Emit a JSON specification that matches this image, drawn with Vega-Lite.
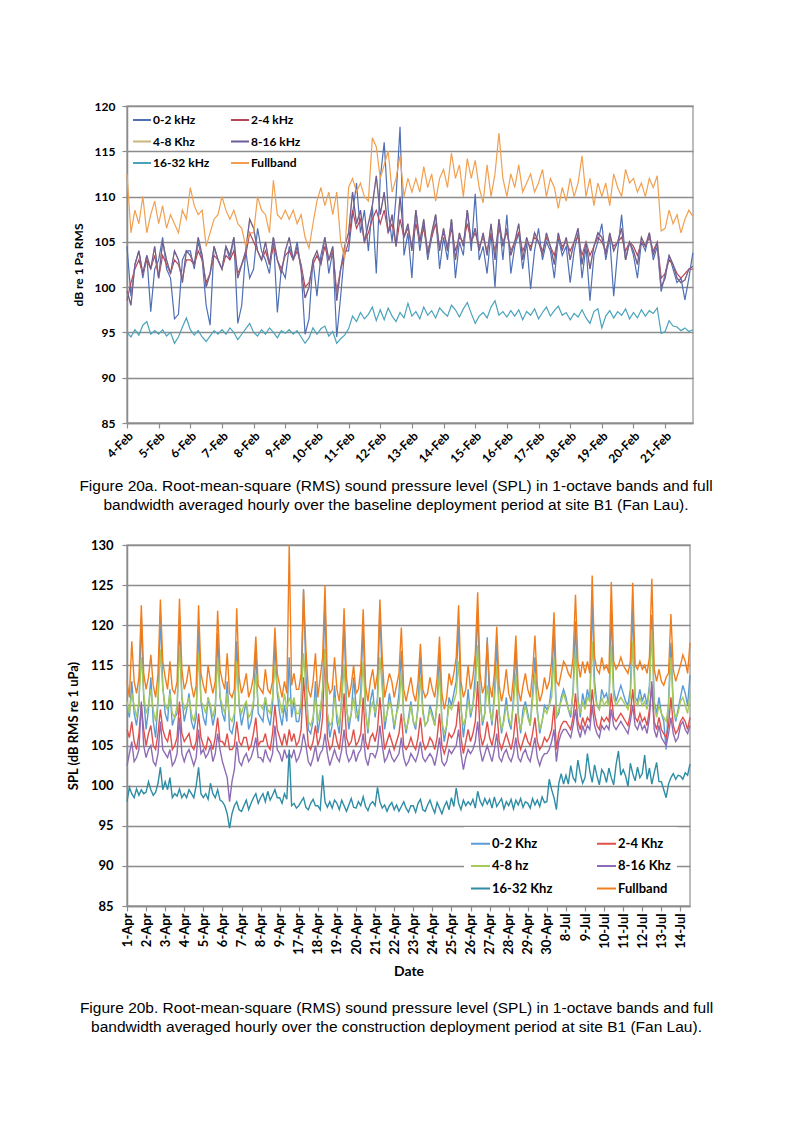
{
"$schema":"https://vega.github.io/schema/vega-lite/v6.json",
"background":"white",
"padding":{"left":66,"top":99,"right":0,"bottom":0},
"autosize":{"type":"pad"},
"config":{
 "font":"Lato",
 "view":{"stroke":"#a6a6a6","strokeWidth":1.5},
 "axis":{"labelFont":"Lato","labelFontWeight":"bold","labelColor":"#000","titleFont":"Lato","titleFontWeight":"bold","titleColor":"#000","domainColor":"#8c8c8c","domainWidth":1.5,"tickColor":"#8c8c8c","tickWidth":1.2,"tickSize":5,"gridColor":"#8c8c8c","gridWidth":1.5,"labelOverlap":false,"labelBound":false,"labelFlush":false},
 "legend":{"labelFont":"Lato","labelFontWeight":"bold","labelColor":"#000"},
 "title":{"font":"Liberation Sans","fontWeight":"normal","color":"#000","fontSize":15.5,"lineHeight":19}
},
"resolve":{"scale":{"x":"independent","y":"independent","color":"independent"},"legend":{"color":"independent"}},
"bounds":"flush",
"spacing":122,
"datasets":{
"pa":[
{"t":0,"a":104.5,"b":98.5,"c":99.6,"d":99.6,"e":95,"f":112.5},
{"t":0.125,"a":99,"b":100.5,"c":98,"d":98,"e":94.5,"f":106},
{"t":0.25,"a":102.5,"b":102,"c":102.5,"d":102.5,"e":95.3,"f":108.5},
{"t":0.375,"a":104,"b":103,"c":104,"d":104,"e":94.7,"f":107},
{"t":0.5,"a":101,"b":101.5,"c":101.5,"d":101.5,"e":95.8,"f":110},
{"t":0.625,"a":103.5,"b":103,"c":103.5,"d":103.5,"e":96.2,"f":106},
{"t":0.75,"a":97.3,"b":102,"c":102,"d":102,"e":94.8,"f":108},
{"t":0.875,"a":102,"b":103.5,"c":104.5,"d":104.5,"e":95.2,"f":109.5},
{"t":1,"a":103,"b":101,"c":101,"d":101,"e":94.8,"f":107},
{"t":1.125,"a":105.5,"b":103.5,"c":105,"d":105,"e":95.3,"f":109},
{"t":1.25,"a":102,"b":102.5,"c":103,"d":103,"e":94.6,"f":106.5},
{"t":1.375,"a":101,"b":101.5,"c":101.5,"d":101.5,"e":95,"f":108},
{"t":1.5,"a":96.5,"b":103,"c":104,"d":104,"e":93.8,"f":107},
{"t":1.625,"a":97,"b":102.5,"c":103,"d":103,"e":94.5,"f":106},
{"t":1.75,"a":103,"b":101,"c":100.5,"d":100.5,"e":95.6,"f":108.5},
{"t":1.875,"a":104,"b":103,"c":104,"d":104,"e":96.6,"f":107.5},
{"t":2,"a":104,"b":103,"c":103.5,"d":103.5,"e":95.3,"f":111},
{"t":2.125,"a":102,"b":102.5,"c":102.5,"d":102.5,"e":94.7,"f":109},
{"t":2.25,"a":105,"b":104,"c":105.5,"d":105.5,"e":95.2,"f":108},
{"t":2.375,"a":103,"b":103,"c":103.5,"d":103.5,"e":94.5,"f":108.5},
{"t":2.5,"a":98,"b":100.5,"c":100,"d":100,"e":94,"f":104.5},
{"t":2.625,"a":95.8,"b":101.5,"c":101.5,"d":101.5,"e":94.6,"f":106},
{"t":2.75,"a":104.5,"b":103.5,"c":104.5,"d":104.5,"e":95.2,"f":107.5},
{"t":2.875,"a":103,"b":103,"c":103,"d":103,"e":94.8,"f":108},
{"t":3,"a":102,"b":102,"c":102,"d":102,"e":95.3,"f":110},
{"t":3.125,"a":104.5,"b":103.5,"c":104.5,"d":104.5,"e":94.8,"f":108.5},
{"t":3.25,"a":103,"b":103,"c":103.5,"d":103.5,"e":95.5,"f":107.5},
{"t":3.375,"a":105.5,"b":104,"c":105.5,"d":105.5,"e":95,"f":108.5},
{"t":3.5,"a":96,"b":101.5,"c":101,"d":101,"e":94.2,"f":107},
{"t":3.625,"a":98,"b":102.5,"c":102.5,"d":102.5,"e":94.8,"f":106.5},
{"t":3.75,"a":104,"b":103.5,"c":104,"d":104,"e":95.4,"f":104.5},
{"t":3.875,"a":101,"b":106,"c":107.5,"d":107.5,"e":96,"f":106},
{"t":4,"a":102,"b":105,"c":106.5,"d":106.5,"e":95,"f":106},
{"t":4.125,"a":106.5,"b":104,"c":104,"d":104,"e":94.6,"f":110},
{"t":4.25,"a":104,"b":103,"c":103,"d":103,"e":95.3,"f":108.5},
{"t":4.375,"a":103,"b":104,"c":105,"d":105,"e":94.8,"f":108},
{"t":4.5,"a":101.5,"b":102.5,"c":102.5,"d":102.5,"e":95.5,"f":106},
{"t":4.625,"a":105.5,"b":104.5,"c":105.5,"d":105.5,"e":95,"f":111.8},
{"t":4.75,"a":97.2,"b":103,"c":103,"d":103,"e":94.4,"f":108},
{"t":4.875,"a":102,"b":102,"c":101.5,"d":101.5,"e":95.2,"f":107.5},
{"t":5,"a":101,"b":103.5,"c":104,"d":104,"e":94.9,"f":108.5},
{"t":5.125,"a":104.5,"b":104,"c":105.5,"d":105.5,"e":95.3,"f":107.5},
{"t":5.25,"a":103,"b":103,"c":103,"d":103,"e":94.8,"f":108.5},
{"t":5.375,"a":105,"b":104,"c":104.5,"d":104.5,"e":95.2,"f":107},
{"t":5.5,"a":102,"b":102.5,"c":102,"d":102,"e":94.5,"f":108},
{"t":5.625,"a":94.8,"b":100,"c":98.8,"d":98.8,"e":93.8,"f":105.5},
{"t":5.75,"a":96.5,"b":100.5,"c":100,"d":100,"e":94.4,"f":104.3},
{"t":5.875,"a":103,"b":102.5,"c":103,"d":103,"e":95.5,"f":107},
{"t":6,"a":99,"b":103.5,"c":104,"d":104,"e":94.8,"f":109.5},
{"t":6.125,"a":103.5,"b":102.5,"c":102.5,"d":102.5,"e":95.4,"f":111},
{"t":6.25,"a":105.5,"b":104.5,"c":105.5,"d":105.5,"e":95.7,"f":109},
{"t":6.375,"a":101.5,"b":103,"c":103,"d":103,"e":94.6,"f":110.5},
{"t":6.5,"a":104,"b":104,"c":104.5,"d":104.5,"e":95.1,"f":108},
{"t":6.625,"a":94.5,"b":99.5,"c":98.5,"d":98.5,"e":93.8,"f":110.5},
{"t":6.75,"a":99,"b":102,"c":102,"d":102,"e":94.3,"f":105},
{"t":6.875,"a":104,"b":103.5,"c":104.5,"d":104.5,"e":94.7,"f":103.2},
{"t":7,"a":104,"b":105,"c":106,"d":106,"e":95.4,"f":111},
{"t":7.125,"a":108,"b":108.5,"c":110.5,"d":110.5,"e":96.8,"f":112},
{"t":7.25,"a":111.5,"b":106.5,"c":107,"d":107,"e":96.2,"f":110.5},
{"t":7.375,"a":106,"b":107.5,"c":108.5,"d":108.5,"e":97.2,"f":111.5},
{"t":7.5,"a":108.5,"b":105,"c":105,"d":105,"e":96.5,"f":110},
{"t":7.625,"a":104,"b":106,"c":107,"d":107,"e":97,"f":109.5},
{"t":7.75,"a":109,"b":107.5,"c":109,"d":109,"e":97.8,"f":116.5},
{"t":7.875,"a":101.5,"b":108.5,"c":112.3,"d":112.3,"e":96.3,"f":115.5},
{"t":8,"a":112,"b":107,"c":108,"d":108,"e":97.5,"f":112},
{"t":8.125,"a":116,"b":108.5,"c":110.5,"d":110.5,"e":96.4,"f":113.5},
{"t":8.25,"a":108.5,"b":106,"c":106,"d":106,"e":97.7,"f":115},
{"t":8.375,"a":105,"b":107,"c":108,"d":108,"e":96.8,"f":110.5},
{"t":8.5,"a":110,"b":104.5,"c":104.5,"d":104.5,"e":96.2,"f":112},
{"t":8.625,"a":117.7,"b":107.5,"c":110,"d":110,"e":97.2,"f":114.5},
{"t":8.75,"a":103.5,"b":105.5,"c":105.5,"d":105.5,"e":96.6,"f":110},
{"t":8.875,"a":106,"b":106.5,"c":107,"d":107,"e":98.2,"f":112},
{"t":9,"a":101,"b":104.5,"c":104,"d":104,"e":96.8,"f":110.5},
{"t":9.125,"a":108.5,"b":107,"c":108.5,"d":108.5,"e":97.3,"f":112},
{"t":9.25,"a":104,"b":105,"c":105,"d":105,"e":96.5,"f":110.5},
{"t":9.375,"a":107,"b":106.5,"c":107.5,"d":107.5,"e":97.8,"f":113.3},
{"t":9.5,"a":103,"b":104,"c":103.5,"d":103.5,"e":96.9,"f":111},
{"t":9.625,"a":105.5,"b":105.5,"c":106,"d":106,"e":97.4,"f":112.5},
{"t":9.75,"a":108,"b":107,"c":108,"d":108,"e":96.6,"f":109.5},
{"t":9.875,"a":102,"b":104.5,"c":104,"d":104,"e":97.7,"f":112},
{"t":10,"a":105.5,"b":106,"c":106.5,"d":106.5,"e":97.2,"f":113},
{"t":10.125,"a":103,"b":104.5,"c":104,"d":104,"e":96.8,"f":111},
{"t":10.25,"a":107.5,"b":106.5,"c":107.5,"d":107.5,"e":98,"f":114.8},
{"t":10.375,"a":101,"b":104,"c":103,"d":103,"e":97.5,"f":112},
{"t":10.5,"a":105,"b":105.5,"c":106,"d":106,"e":96.7,"f":113.5},
{"t":10.625,"a":103.5,"b":105,"c":104.5,"d":104.5,"e":97.6,"f":110},
{"t":10.75,"a":108.5,"b":107,"c":108.5,"d":108.5,"e":98.3,"f":114.2},
{"t":10.875,"a":104,"b":105,"c":105,"d":105,"e":97.1,"f":112},
{"t":11,"a":110.3,"b":106,"c":106.5,"d":106.5,"e":96,"f":114},
{"t":11.125,"a":103,"b":104.5,"c":104,"d":104,"e":96.8,"f":111},
{"t":11.25,"a":104.5,"b":105.5,"c":106,"d":106,"e":97.2,"f":109.3},
{"t":11.375,"a":101.5,"b":104,"c":103.5,"d":103.5,"e":96.6,"f":113.5},
{"t":11.5,"a":106,"b":106,"c":107,"d":107,"e":97.8,"f":110},
{"t":11.625,"a":100,"b":104,"c":103,"d":103,"e":98.5,"f":112.5},
{"t":11.75,"a":107.5,"b":106.5,"c":107.5,"d":107.5,"e":96.9,"f":117},
{"t":11.875,"a":103,"b":105,"c":104.5,"d":104.5,"e":97.3,"f":112},
{"t":12,"a":108,"b":106,"c":106.5,"d":106.5,"e":96.7,"f":110},
{"t":12.125,"a":101.5,"b":104,"c":103.5,"d":103.5,"e":97.4,"f":112.5},
{"t":12.25,"a":104.5,"b":105,"c":105,"d":105,"e":96.8,"f":111},
{"t":12.375,"a":106,"b":106,"c":107,"d":107,"e":97.5,"f":113.5},
{"t":12.5,"a":102,"b":104,"c":103,"d":103,"e":96.4,"f":110.5},
{"t":12.625,"a":105,"b":105,"c":105.5,"d":105.5,"e":97.3,"f":111.5},
{"t":12.75,"a":99.8,"b":104.5,"c":104,"d":104,"e":96.9,"f":112.5},
{"t":12.875,"a":104,"b":105.5,"c":106,"d":106,"e":97.6,"f":110.5},
{"t":13,"a":106.5,"b":105,"c":105,"d":105,"e":96.5,"f":111.5},
{"t":13.125,"a":103,"b":104,"c":103.5,"d":103.5,"e":97.2,"f":113},
{"t":13.25,"a":105,"b":105.5,"c":106,"d":106,"e":97.8,"f":110},
{"t":13.375,"a":104,"b":104.5,"c":104.5,"d":104.5,"e":96.8,"f":112},
{"t":13.5,"a":101,"b":103.5,"c":102.5,"d":102.5,"e":97.4,"f":111},
{"t":13.625,"a":105.5,"b":105.5,"c":106,"d":106,"e":97.9,"f":108.7},
{"t":13.75,"a":103.5,"b":104.5,"c":104,"d":104,"e":96.9,"f":111},
{"t":13.875,"a":104.5,"b":105,"c":105.5,"d":105.5,"e":97.2,"f":109.5},
{"t":14,"a":100.5,"b":104,"c":103,"d":103,"e":96.4,"f":112},
{"t":14.125,"a":104,"b":105,"c":105,"d":105,"e":97.1,"f":110},
{"t":14.25,"a":106,"b":105.5,"c":106.5,"d":106.5,"e":96.7,"f":111.5},
{"t":14.375,"a":101,"b":103.5,"c":102.5,"d":102.5,"e":97.5,"f":114.5},
{"t":14.5,"a":104.5,"b":105,"c":105,"d":105,"e":96.6,"f":110},
{"t":14.625,"a":98.5,"b":103.5,"c":102,"d":102,"e":96,"f":112},
{"t":14.75,"a":103.5,"b":104.5,"c":104.5,"d":104.5,"e":97.3,"f":109},
{"t":14.875,"a":105,"b":105.5,"c":106,"d":106,"e":97.6,"f":111.5},
{"t":15,"a":107,"b":105,"c":105.5,"d":105.5,"e":95.5,"f":110},
{"t":15.125,"a":103,"b":104,"c":103.5,"d":103.5,"e":96.8,"f":111.5},
{"t":15.25,"a":105.5,"b":105.5,"c":106,"d":106,"e":97.4,"f":109},
{"t":15.375,"a":99,"b":104.5,"c":104,"d":104,"e":96.6,"f":112.5},
{"t":15.5,"a":104,"b":105,"c":105,"d":105,"e":97.3,"f":111},
{"t":15.625,"a":108,"b":105.5,"c":106.5,"d":106.5,"e":96.9,"f":110},
{"t":15.75,"a":103,"b":104,"c":103,"d":103,"e":97.6,"f":113},
{"t":15.875,"a":105,"b":105,"c":105,"d":105,"e":96.5,"f":111.5},
{"t":16,"a":103.5,"b":104.5,"c":104,"d":104,"e":97.2,"f":112},
{"t":16.125,"a":101,"b":103.5,"c":102.5,"d":102.5,"e":96.6,"f":110.5},
{"t":16.25,"a":105,"b":105,"c":105.5,"d":105.5,"e":97.5,"f":111.5},
{"t":16.375,"a":104,"b":104.5,"c":104.5,"d":104.5,"e":96.8,"f":110},
{"t":16.5,"a":106,"b":105.5,"c":106,"d":106,"e":97.4,"f":112},
{"t":16.625,"a":103,"b":104,"c":103.5,"d":103.5,"e":97.1,"f":111},
{"t":16.75,"a":104.5,"b":105,"c":105,"d":105,"e":97.7,"f":112.3},
{"t":16.875,"a":99.5,"b":101,"c":100,"d":100,"e":94.9,"f":106.2},
{"t":17,"a":101.5,"b":101.5,"c":101,"d":101,"e":95.1,"f":106.5},
{"t":17.125,"a":103.5,"b":103,"c":103.5,"d":103.5,"e":96.3,"f":108.5},
{"t":17.25,"a":102,"b":102.5,"c":102.5,"d":102.5,"e":95.7,"f":107},
{"t":17.375,"a":100.5,"b":101.5,"c":101,"d":101,"e":95.6,"f":108},
{"t":17.5,"a":101,"b":101,"c":100.5,"d":100.5,"e":95.2,"f":106},
{"t":17.625,"a":98.6,"b":101.5,"c":100.8,"d":100.8,"e":95.5,"f":107.5},
{"t":17.75,"a":101,"b":102,"c":102,"d":102,"e":95.1,"f":108.5},
{"t":17.875,"a":103.8,"b":102,"c":102.3,"d":102.3,"e":95.3,"f":107.8}
],
"pb":[
{"t":0,"a":110,"b":107,"c":110.5,"d":102.5,"e":98,"f":113},
{"t":0.125,"a":108.5,"b":106,"c":109,"d":104,"e":99.8,"f":111},
{"t":0.25,"a":113,"b":108,"c":111.5,"d":105.5,"e":99,"f":118},
{"t":0.375,"a":109,"b":105.5,"c":110,"d":103,"e":98.5,"f":113},
{"t":0.5,"a":107.5,"b":104.5,"c":108.5,"d":103.5,"e":99.6,"f":111.5},
{"t":0.625,"a":110,"b":106.5,"c":110.5,"d":104.5,"e":98.8,"f":113.5},
{"t":0.75,"a":121,"b":110,"c":116,"d":110.5,"e":99.5,"f":122.5},
{"t":0.875,"a":111,"b":107,"c":111.5,"d":105,"e":99,"f":114},
{"t":1,"a":107,"b":105,"c":109,"d":103.5,"e":99.2,"f":112},
{"t":1.125,"a":109.5,"b":106.5,"c":110,"d":104.5,"e":100.5,"f":113.5},
{"t":1.25,"a":113.5,"b":107.5,"c":112,"d":105,"e":99.5,"f":116.3},
{"t":1.375,"a":108,"b":105,"c":109.5,"d":103,"e":98.8,"f":112.5},
{"t":1.5,"a":106,"b":104.5,"c":108,"d":102.5,"e":99.2,"f":111},
{"t":1.625,"a":110.5,"b":106.5,"c":110.5,"d":104,"e":100.3,"f":114},
{"t":1.75,"a":121.3,"b":109.5,"c":117,"d":108,"e":102.3,"f":123.2},
{"t":1.875,"a":112.5,"b":107,"c":112,"d":104.5,"e":99.5,"f":115.5},
{"t":2,"a":109,"b":106,"c":110,"d":104,"e":100.5,"f":113.5},
{"t":2.125,"a":108,"b":105.5,"c":109.5,"d":103.5,"e":99.5,"f":112},
{"t":2.25,"a":112,"b":107,"c":111.5,"d":104.5,"e":101,"f":115.5},
{"t":2.375,"a":107.5,"b":104.5,"c":109,"d":102.5,"e":98.5,"f":112},
{"t":2.5,"a":108.5,"b":105,"c":108.5,"d":103,"e":99,"f":111.5},
{"t":2.625,"a":109,"b":106,"c":110,"d":104,"e":98.7,"f":113},
{"t":2.75,"a":121,"b":110.5,"c":117.5,"d":108.5,"e":99.6,"f":123.3},
{"t":2.875,"a":111,"b":106.5,"c":111,"d":104,"e":98.5,"f":114.5},
{"t":3,"a":108,"b":105.5,"c":109.5,"d":103,"e":99,"f":112},
{"t":3.125,"a":109.5,"b":106,"c":110,"d":104,"e":98.5,"f":113},
{"t":3.25,"a":111.5,"b":106.5,"c":111,"d":104.5,"e":99.5,"f":115},
{"t":3.375,"a":108,"b":105,"c":109,"d":103.5,"e":99,"f":112.5},
{"t":3.5,"a":107,"b":104.5,"c":108,"d":102.5,"e":98.5,"f":111},
{"t":3.625,"a":108.5,"b":105.5,"c":109.5,"d":103.5,"e":100,"f":112.5},
{"t":3.75,"a":120.3,"b":109,"c":116.5,"d":107,"e":102.3,"f":122.5},
{"t":3.875,"a":110.5,"b":106,"c":110.5,"d":104,"e":99,"f":114},
{"t":4,"a":108.5,"b":105,"c":110,"d":104.5,"e":98.5,"f":112.5},
{"t":4.125,"a":107.5,"b":104.5,"c":109,"d":103.5,"e":99,"f":111.5},
{"t":4.25,"a":111,"b":106,"c":111,"d":104,"e":98.3,"f":115},
{"t":4.375,"a":109.5,"b":105.5,"c":110,"d":105,"e":100.3,"f":113},
{"t":4.5,"a":107.5,"b":104.5,"c":108.5,"d":103,"e":99,"f":111.5},
{"t":4.625,"a":109,"b":106,"c":110,"d":104,"e":98.5,"f":113},
{"t":4.75,"a":119,"b":108.5,"c":116,"d":106.5,"e":99.5,"f":121.8},
{"t":4.875,"a":111,"b":105.5,"c":111,"d":104.5,"e":98.2,"f":114.5},
{"t":5,"a":109,"b":105.5,"c":110,"d":103,"e":98,"f":113},
{"t":5.125,"a":108,"b":105,"c":109,"d":102,"e":97.5,"f":112},
{"t":5.25,"a":113,"b":106.5,"c":111.5,"d":101,"e":96.5,"f":116.5},
{"t":5.375,"a":107,"b":104.5,"c":108.5,"d":98,"e":94.7,"f":111.5},
{"t":5.5,"a":106.5,"b":104.5,"c":108,"d":100.5,"e":96.5,"f":111},
{"t":5.625,"a":108,"b":105,"c":109,"d":102,"e":97.5,"f":112},
{"t":5.75,"a":118,"b":108,"c":115.5,"d":105.5,"e":98,"f":122.1},
{"t":5.875,"a":110,"b":105.5,"c":110,"d":103,"e":97,"f":113.5},
{"t":6,"a":107.5,"b":105,"c":109,"d":102.5,"e":96.8,"f":111.5},
{"t":6.125,"a":109,"b":106,"c":110,"d":103.5,"e":97.5,"f":112.5},
{"t":6.25,"a":110.5,"b":106,"c":110.5,"d":104,"e":98.2,"f":114},
{"t":6.375,"a":107,"b":104.5,"c":108.5,"d":103,"e":97,"f":111},
{"t":6.5,"a":108,"b":105,"c":109,"d":103.5,"e":97.8,"f":112},
{"t":6.625,"a":110,"b":106.5,"c":110.5,"d":104.5,"e":98.5,"f":113.5},
{"t":6.75,"a":117,"b":108.5,"c":114,"d":106,"e":99,"f":118.6},
{"t":6.875,"a":109,"b":105,"c":110,"d":103.5,"e":97.8,"f":112.5},
{"t":7,"a":108.5,"b":105.5,"c":110,"d":103.5,"e":98.5,"f":112},
{"t":7.125,"a":108,"b":105.5,"c":109.5,"d":103,"e":99,"f":111.5},
{"t":7.25,"a":111,"b":106.5,"c":111,"d":104.5,"e":98,"f":114.5},
{"t":7.375,"a":108.5,"b":105,"c":109.5,"d":103.5,"e":99.3,"f":112},
{"t":7.5,"a":107.5,"b":104.5,"c":109,"d":103,"e":98.2,"f":111.5},
{"t":7.625,"a":110,"b":106.5,"c":111,"d":104,"e":98.8,"f":113},
{"t":7.75,"a":118,"b":110,"c":115,"d":107.5,"e":99.5,"f":119.7},
{"t":7.875,"a":111.5,"b":107,"c":112,"d":104.5,"e":98.5,"f":114},
{"t":8,"a":109,"b":106,"c":110.5,"d":104,"e":98.5,"f":112.5},
{"t":8.125,"a":107.5,"b":105,"c":109,"d":103,"e":97.8,"f":111},
{"t":8.25,"a":110,"b":106.5,"c":111.5,"d":104.5,"e":99,"f":113},
{"t":8.375,"a":108,"b":105,"c":109.5,"d":103.5,"e":98.3,"f":111.5},
{"t":8.5,"a":116,"b":107,"c":111,"d":104,"e":104.5,"f":130},
{"t":8.625,"a":108.5,"b":105.5,"c":110,"d":103.5,"e":97.5,"f":112.5},
{"t":8.75,"a":110.5,"b":106.5,"c":111,"d":104.5,"e":97.8,"f":114},
{"t":8.875,"a":108,"b":105,"c":109,"d":103,"e":97.2,"f":112},
{"t":9,"a":108,"b":105.5,"c":109,"d":103.5,"e":97.5,"f":112},
{"t":9.125,"a":110,"b":107,"c":110.5,"d":104.5,"e":98,"f":114},
{"t":9.25,"a":124.5,"b":113.5,"c":116.5,"d":106.5,"e":98.5,"f":124.3},
{"t":9.375,"a":114,"b":109,"c":112,"d":105,"e":97.3,"f":117},
{"t":9.5,"a":107,"b":105,"c":108,"d":103,"e":97,"f":112},
{"t":9.625,"a":106.5,"b":104.5,"c":107.5,"d":102.5,"e":97.8,"f":111},
{"t":9.75,"a":108,"b":105.5,"c":108.5,"d":103.5,"e":98.3,"f":113},
{"t":9.875,"a":113,"b":107.5,"c":111,"d":105,"e":97.5,"f":116.5},
{"t":10,"a":106.5,"b":105,"c":108,"d":103,"e":97.5,"f":111},
{"t":10.125,"a":108.5,"b":106,"c":109.5,"d":104,"e":97,"f":113.5},
{"t":10.25,"a":112,"b":108.5,"c":112,"d":104.5,"e":101.3,"f":116},
{"t":10.375,"a":123.2,"b":117,"c":117,"d":106.5,"e":98,"f":125},
{"t":10.5,"a":109,"b":106,"c":109,"d":104,"e":97.3,"f":113},
{"t":10.625,"a":106,"b":104.5,"c":107.5,"d":102.5,"e":98,"f":111.5},
{"t":10.75,"a":107.5,"b":105,"c":108,"d":103.5,"e":97.2,"f":112},
{"t":10.875,"a":112.5,"b":107,"c":111,"d":104.5,"e":98.2,"f":116},
{"t":11,"a":108,"b":105.5,"c":109,"d":103.5,"e":97.8,"f":112},
{"t":11.125,"a":106.5,"b":104.5,"c":107.5,"d":103,"e":97,"f":110.5},
{"t":11.25,"a":111,"b":107,"c":110.5,"d":104.5,"e":98.2,"f":114},
{"t":11.375,"a":120.5,"b":111.5,"c":115,"d":107,"e":97.5,"f":122.1},
{"t":11.5,"a":110,"b":106,"c":109.5,"d":104,"e":96.8,"f":113.5},
{"t":11.625,"a":107,"b":105,"c":108,"d":103,"e":97.6,"f":111},
{"t":11.75,"a":109,"b":105.5,"c":109,"d":103.5,"e":98.4,"f":112.5},
{"t":11.875,"a":113.5,"b":107,"c":111,"d":104.5,"e":97.3,"f":115},
{"t":12,"a":110,"b":105,"c":108.5,"d":103,"e":97.2,"f":111.5},
{"t":12.125,"a":108,"b":105.5,"c":109,"d":104,"e":98,"f":112},
{"t":12.25,"a":112,"b":106.5,"c":110.5,"d":104.5,"e":97.5,"f":114.5},
{"t":12.375,"a":120,"b":111,"c":115.5,"d":106.5,"e":98.6,"f":122},
{"t":12.5,"a":109.5,"b":105.5,"c":109,"d":103.5,"e":97.4,"f":112.5},
{"t":12.625,"a":106.5,"b":104.5,"c":107,"d":102.5,"e":96.9,"f":110.5},
{"t":12.75,"a":110.5,"b":106,"c":109.5,"d":104,"e":97.7,"f":113},
{"t":12.875,"a":112,"b":106.5,"c":110.5,"d":104,"e":98,"f":114.5},
{"t":13,"a":108.5,"b":105.5,"c":109,"d":103.5,"e":97.5,"f":112},
{"t":13.125,"a":111,"b":107,"c":110.5,"d":104.5,"e":99.8,"f":114},
{"t":13.25,"a":122,"b":111,"c":116,"d":107.5,"e":98,"f":123.2},
{"t":13.375,"a":113,"b":107.5,"c":112,"d":105,"e":97.2,"f":116},
{"t":13.5,"a":107,"b":104.5,"c":108,"d":103,"e":97.6,"f":111},
{"t":13.625,"a":109,"b":105.5,"c":109,"d":103.5,"e":96.8,"f":112.5},
{"t":13.75,"a":111.5,"b":106.5,"c":110.5,"d":104.5,"e":97.5,"f":114},
{"t":13.875,"a":109.5,"b":105.5,"c":109.5,"d":103.5,"e":97.9,"f":113},
{"t":14,"a":107,"b":104.5,"c":107.5,"d":103,"e":97,"f":111},
{"t":14.125,"a":109,"b":105.5,"c":109,"d":103.5,"e":97.6,"f":112.5},
{"t":14.25,"a":111.5,"b":106.5,"c":110,"d":104,"e":96.8,"f":114},
{"t":14.375,"a":116.8,"b":109,"c":114,"d":106,"e":97.4,"f":119.7},
{"t":14.5,"a":108.5,"b":105,"c":108.5,"d":103.5,"e":98,"f":112},
{"t":14.625,"a":106.5,"b":104.5,"c":107,"d":102.5,"e":97.2,"f":110.5},
{"t":14.75,"a":108.5,"b":105,"c":108,"d":103,"e":96.7,"f":112},
{"t":14.875,"a":110.5,"b":106,"c":110,"d":104,"e":97.5,"f":113.5},
{"t":15,"a":108,"b":105,"c":108,"d":103.5,"e":97.5,"f":111.5},
{"t":15.125,"a":107,"b":104.5,"c":107.5,"d":103,"e":96.7,"f":110.5},
{"t":15.25,"a":110,"b":106,"c":109.5,"d":104,"e":97.8,"f":113},
{"t":15.375,"a":116,"b":108.5,"c":113.5,"d":105.5,"e":98.3,"f":117.7},
{"t":15.5,"a":109.5,"b":105.5,"c":109,"d":103.5,"e":97,"f":112},
{"t":15.625,"a":107.5,"b":104.5,"c":107.5,"d":103,"e":96.8,"f":111},
{"t":15.75,"a":108,"b":105,"c":108,"d":103.5,"e":97.6,"f":111.5},
{"t":15.875,"a":110,"b":106,"c":109.5,"d":104,"e":98.2,"f":113.5},
{"t":16,"a":109,"b":105.5,"c":108.5,"d":103.5,"e":97.3,"f":112},
{"t":16.125,"a":107.5,"b":104.5,"c":107.5,"d":102.5,"e":96.6,"f":111},
{"t":16.25,"a":110.5,"b":106,"c":110,"d":104,"e":97.9,"f":113.5},
{"t":16.375,"a":116.6,"b":109,"c":114,"d":106,"e":97.2,"f":118.6},
{"t":16.5,"a":108,"b":105,"c":108,"d":103,"e":96.5,"f":111.5},
{"t":16.625,"a":105.5,"b":104,"c":106.5,"d":102.5,"e":97.4,"f":109.5},
{"t":16.75,"a":107.5,"b":105,"c":107.5,"d":103,"e":98,"f":111},
{"t":16.875,"a":111,"b":106.5,"c":110,"d":104.5,"e":97,"f":114},
{"t":17,"a":110,"b":106,"c":109.5,"d":104,"e":98.5,"f":112.5},
{"t":17.125,"a":111.5,"b":106.5,"c":110.5,"d":104.5,"e":97.4,"f":114},
{"t":17.25,"a":113,"b":107.5,"c":111.5,"d":105,"e":99.7,"f":116},
{"t":17.375,"a":120.5,"b":110.5,"c":115.5,"d":107,"e":97.8,"f":122.5},
{"t":17.5,"a":110,"b":106,"c":109.5,"d":104,"e":97,"f":113},
{"t":17.625,"a":106,"b":104,"c":107.5,"d":102,"e":98.2,"f":111},
{"t":17.75,"a":108.5,"b":105.5,"c":108.5,"d":103.5,"e":97.5,"f":112},
{"t":17.875,"a":112,"b":107,"c":110.5,"d":104.5,"e":98,"f":115},
{"t":18,"a":108.5,"b":105.5,"c":109,"d":104,"e":97.6,"f":112},
{"t":18.125,"a":110,"b":106.5,"c":110,"d":104.5,"e":98.3,"f":113.5},
{"t":18.25,"a":114,"b":108,"c":112,"d":105.5,"e":97.2,"f":116.5},
{"t":18.375,"a":122,"b":113,"c":117.5,"d":108,"e":99.3,"f":124.1},
{"t":18.5,"a":111,"b":106.5,"c":110,"d":104.5,"e":98.1,"f":114},
{"t":18.625,"a":107.5,"b":105,"c":108,"d":103,"e":97.5,"f":111.5},
{"t":18.75,"a":109,"b":106,"c":109,"d":104,"e":98.4,"f":112.5},
{"t":18.875,"a":118.5,"b":108,"c":112.5,"d":105,"e":97.7,"f":118},
{"t":19,"a":110,"b":106,"c":109.5,"d":104,"e":98.3,"f":112.5},
{"t":19.125,"a":107.5,"b":105,"c":108,"d":103,"e":97.2,"f":111},
{"t":19.25,"a":111.5,"b":106.5,"c":110.5,"d":104.5,"e":98.6,"f":114},
{"t":19.375,"a":118,"b":109.5,"c":115,"d":106.5,"e":97.4,"f":119.8},
{"t":19.5,"a":109,"b":105.5,"c":109,"d":103.5,"e":97.9,"f":112.5},
{"t":19.625,"a":106.5,"b":104.5,"c":107,"d":103,"e":98.4,"f":110.5},
{"t":19.75,"a":108.5,"b":105.5,"c":108,"d":104,"e":97.1,"f":112},
{"t":19.875,"a":111,"b":106.5,"c":110,"d":104.5,"e":98,"f":114.5},
{"t":20,"a":108,"b":105.5,"c":108.5,"d":103.5,"e":97.5,"f":111.5},
{"t":20.125,"a":107,"b":104.5,"c":107.5,"d":103,"e":98.3,"f":110.5},
{"t":20.25,"a":111,"b":106,"c":110,"d":104,"e":97.1,"f":113.5},
{"t":20.375,"a":117,"b":109,"c":114,"d":106,"e":98.2,"f":118.7},
{"t":20.5,"a":109,"b":105.5,"c":108.5,"d":103.5,"e":97.6,"f":112},
{"t":20.625,"a":106.5,"b":104.5,"c":107,"d":103,"e":98.4,"f":110.5},
{"t":20.75,"a":109.5,"b":105.5,"c":108.5,"d":104,"e":97.3,"f":112.5},
{"t":20.875,"a":110.5,"b":106.5,"c":110,"d":104.5,"e":98,"f":114},
{"t":21,"a":109,"b":105.5,"c":108.5,"d":103.5,"e":97.8,"f":112},
{"t":21.125,"a":107.5,"b":105,"c":107.5,"d":103,"e":97.2,"f":111},
{"t":21.25,"a":111.5,"b":106.5,"c":110.5,"d":104.5,"e":98.4,"f":114},
{"t":21.375,"a":116,"b":108.5,"c":114,"d":106,"e":97.6,"f":118.7},
{"t":21.5,"a":109.5,"b":105.5,"c":109,"d":103.5,"e":98.2,"f":112.5},
{"t":21.625,"a":106.5,"b":104.5,"c":107,"d":102.5,"e":97.4,"f":110.5},
{"t":21.75,"a":108,"b":105,"c":108,"d":103.5,"e":98.6,"f":111.5},
{"t":21.875,"a":110,"b":106,"c":109.5,"d":104,"e":97.9,"f":113.5},
{"t":22,"a":109.5,"b":105.5,"c":109,"d":104,"e":98,"f":112},
{"t":22.125,"a":110,"b":106,"c":110,"d":104.5,"e":100.8,"f":113},
{"t":22.25,"a":112.5,"b":107,"c":111,"d":105.5,"e":99.5,"f":115.5},
{"t":22.375,"a":119.7,"b":110,"c":116,"d":107,"e":98.5,"f":121.6},
{"t":22.5,"a":108.5,"b":104.5,"c":108.5,"d":103,"e":97,"f":113},
{"t":22.625,"a":109,"b":106.5,"c":109.5,"d":105.5,"e":100.3,"f":112.5},
{"t":22.75,"a":111,"b":107.5,"c":110.5,"d":106.5,"e":101.5,"f":114},
{"t":22.875,"a":112,"b":108,"c":111.5,"d":107,"e":100.2,"f":115.5},
{"t":23,"a":111,"b":108,"c":110.5,"d":107,"e":101.3,"f":115},
{"t":23.125,"a":109.5,"b":107.5,"c":109.5,"d":106.5,"e":100.2,"f":114},
{"t":23.25,"a":108.5,"b":107,"c":109,"d":106,"e":102.5,"f":113.5},
{"t":23.375,"a":112,"b":108.5,"c":111.5,"d":107.5,"e":101,"f":116},
{"t":23.5,"a":120.5,"b":111.5,"c":117,"d":109.5,"e":100.5,"f":123.8},
{"t":23.625,"a":111,"b":108,"c":110.5,"d":107,"e":103.2,"f":115.5},
{"t":23.75,"a":108.5,"b":107,"c":109,"d":106,"e":101.5,"f":113.5},
{"t":23.875,"a":111.5,"b":108.5,"c":110.5,"d":107.5,"e":100.3,"f":115.5},
{"t":24,"a":110,"b":107.5,"c":109.5,"d":106.5,"e":101,"f":114},
{"t":24.125,"a":112,"b":108.5,"c":111,"d":107.5,"e":104,"f":115.5},
{"t":24.25,"a":110.5,"b":108,"c":110.5,"d":107,"e":101.8,"f":114},
{"t":24.375,"a":123,"b":112,"c":118,"d":110,"e":100.4,"f":126.2},
{"t":24.5,"a":113,"b":109,"c":111.5,"d":107.5,"e":102.6,"f":116},
{"t":24.625,"a":110,"b":107.5,"c":110,"d":106.5,"e":101.2,"f":114.5},
{"t":24.75,"a":109.5,"b":107,"c":109.5,"d":106,"e":100.1,"f":114},
{"t":24.875,"a":112,"b":108.5,"c":111,"d":107.5,"e":102,"f":116},
{"t":25,"a":111,"b":108,"c":110,"d":107,"e":101.5,"f":114.5},
{"t":25.125,"a":111.5,"b":108.5,"c":110.5,"d":107.5,"e":100.4,"f":115},
{"t":25.25,"a":110,"b":108,"c":110,"d":107,"e":102.2,"f":114},
{"t":25.375,"a":122,"b":111.5,"c":117.5,"d":109.5,"e":101,"f":125.4},
{"t":25.5,"a":112,"b":108.5,"c":111,"d":107.5,"e":100.1,"f":115.5},
{"t":25.625,"a":110.5,"b":108,"c":110,"d":107,"e":102.6,"f":114.5},
{"t":25.75,"a":111.5,"b":108.5,"c":110.5,"d":107.5,"e":104.3,"f":115},
{"t":25.875,"a":112.5,"b":109,"c":111,"d":108,"e":101.3,"f":116},
{"t":26,"a":111.5,"b":108.5,"c":110.5,"d":107.5,"e":102,"f":115},
{"t":26.125,"a":110.5,"b":108,"c":110,"d":107,"e":101.2,"f":114.5},
{"t":26.25,"a":110,"b":107.5,"c":109.5,"d":106.5,"e":99.9,"f":114},
{"t":26.375,"a":112,"b":109,"c":111,"d":108,"e":102.8,"f":115.5},
{"t":26.5,"a":122.5,"b":112,"c":118,"d":110,"e":101.5,"f":125.3},
{"t":26.625,"a":111,"b":108.5,"c":110.5,"d":107.5,"e":100.6,"f":115},
{"t":26.75,"a":110.5,"b":108,"c":110,"d":107,"e":102.3,"f":114.5},
{"t":26.875,"a":112,"b":109,"c":111,"d":108,"e":101,"f":115.5},
{"t":27,"a":110.5,"b":108,"c":110,"d":107,"e":101.5,"f":114.5},
{"t":27.125,"a":111.5,"b":108.5,"c":110.5,"d":107.5,"e":103.8,"f":115},
{"t":27.25,"a":110,"b":107.5,"c":109.5,"d":106.5,"e":100.8,"f":114},
{"t":27.375,"a":112.5,"b":109.5,"c":112,"d":108.5,"e":102.2,"f":116},
{"t":27.5,"a":121.3,"b":112.5,"c":119.5,"d":113,"e":100.2,"f":125.8},
{"t":27.625,"a":110.5,"b":108,"c":110,"d":107,"e":101.6,"f":114.5},
{"t":27.75,"a":109,"b":107,"c":108.5,"d":106,"e":102.9,"f":113},
{"t":27.875,"a":111,"b":108.5,"c":110,"d":107.5,"e":100.5,"f":114.5},
{"t":28,"a":109,"b":107,"c":109,"d":106,"e":100.5,"f":113},
{"t":28.125,"a":108,"b":106.5,"c":108.5,"d":105.5,"e":99.5,"f":112.5},
{"t":28.25,"a":104.5,"b":106,"c":108,"d":105,"e":98.5,"f":113.5},
{"t":28.375,"a":110.5,"b":107.5,"c":110,"d":106.5,"e":100.2,"f":114},
{"t":28.5,"a":117.8,"b":111,"c":116,"d":108.5,"e":101,"f":121.4},
{"t":28.625,"a":110,"b":107.5,"c":109.5,"d":106.5,"e":101.5,"f":114.5},
{"t":28.75,"a":108,"b":106.5,"c":108.5,"d":105.5,"e":100.8,"f":113},
{"t":28.875,"a":109.5,"b":107,"c":109,"d":106,"e":101.3,"f":114},
{"t":29,"a":111,"b":108,"c":110.5,"d":107.5,"e":101.2,"f":115},
{"t":29.125,"a":112.5,"b":108.5,"c":111,"d":108,"e":100.8,"f":116.3},
{"t":29.25,"a":111.5,"b":108,"c":110,"d":107,"e":101.6,"f":115.5},
{"t":29.375,"a":110,"b":107,"c":109,"d":106.5,"e":101.3,"f":114},
{"t":29.5,"a":113.8,"b":108.5,"c":111.5,"d":107.5,"e":102.7,"f":117.8}
]
},
"vconcat":[
{
 "width":566,"height":317,
 "data":{"name":"pa"},
 "transform":[{"fold":["a","b","c","d","e","f"],"as":["s","v"]}],
 "mark":{"type":"line","strokeWidth":1.2},
 "encoding":{
  "x":{"field":"t","type":"quantitative","scale":{"domain":[0,17.88],"nice":false,"zero":false},
   "axis":{"values":[0,1,2,3,4,5,6,7,8,9,10,11,12,13,14,15,16,17],"labelExpr":"(datum.value+4)+'-Feb'","labelAngle":-45,"labelFontSize":12,"labelPadding":2,"grid":false,"title":null}},
  "y":{"field":"v","type":"quantitative","scale":{"domain":[85,120],"nice":false,"zero":false},
   "axis":{"values":[85,90,95,100,105,110,115,120],"title":"dB re 1 Pa RMS","titleFontSize":12,"labelFontSize":12,"labelPadding":7,"titlePadding":9}},
  "color":{"field":"s","type":"nominal","scale":{"domain":["a","c","e","b","d","f"],"range":["#4F6FB5","#C8B67A","#4AA3BA","#B4465A","#6E5C9A","#F0A050"]},
   "legend":{"orient":"none","legendX":5,"legendY":4,"columns":2,"title":null,"symbolType":"stroke","symbolSize":324,"symbolStrokeWidth":2,"labelFontSize":12,"columnPadding":17,"rowPadding":5.5,"labelOffset":1,"padding":0,
    "labelExpr":"['0-2 kHz','2-4 kHz','4-8 Khz','8-16 kHz','16-32 kHz','Fullband'][indexof(['a','b','c','d','e','f'],datum.label)]"}}
 },
 "title":{"text":["Figure 20a.  Root-mean-square (RMS) sound pressure level (SPL) in 1-octave bands and full","bandwidth averaged hourly over the baseline deployment period at site B1 (Fan Lau)."],"orient":"bottom","anchor":"middle","dx":-14,"offset":14}
},
{
 "width":563,"height":361,
 "data":{"name":"pb"},
 "transform":[{"fold":["a","b","c","d","e","f"],"as":["s","v"]}],
 "mark":{"type":"line","strokeWidth":1.4},
 "encoding":{
  "x":{"field":"t","type":"quantitative","scale":{"domain":[0,29.5],"nice":false,"zero":false},
   "axis":{"values":[0,1,2,3,4,5,6,7,8,9,10,11,12,13,14,15,16,17,18,19,20,21,22,23,24,25,26,27,28,29],"labelExpr":"['1-Apr','2-Apr','3-Apr','4-Apr','5-Apr','6-Apr','7-Apr','8-Apr','9-Apr','17-Apr','18-Apr','19-Apr','20-Apr','21-Apr','22-Apr','23-Apr','24-Apr','25-Apr','26-Apr','27-Apr','28-Apr','29-Apr','30-Apr','8-Jul','9-Jul','10-Jul','11-Jul','12-Jul','13-Jul','14-Jul'][datum.value]","labelAngle":-90,"labelFontSize":13,"labelPadding":2,"grid":false,"title":"Date","titleFontSize":14,"titlePadding":10}},
  "y":{"field":"v","type":"quantitative","scale":{"domain":[85,130],"nice":false,"zero":false},
   "axis":{"values":[85,90,95,100,105,110,115,120,125,130],"title":"SPL (dB RMS re 1 uPa)","titleFontSize":13,"labelFontSize":13,"labelPadding":9,"titlePadding":10}},
  "color":{"field":"s","type":"nominal","scale":{"domain":["a","c","e","b","d","f"],"range":["#5B9BD5","#A6C95C","#2E8DA5","#E0504A","#8E6BB5","#F07E1E"]},
   "legend":{"orient":"none","legendX":337,"legendY":282,"columns":2,"title":null,"symbolType":"stroke","symbolSize":361,"symbolStrokeWidth":2,"labelFontSize":13,"columnPadding":40,"rowPadding":4.5,"labelOffset":1,"padding":6,"fillColor":"white","gridAlign":"all",
    "labelExpr":"['0-2 Khz','2-4 Khz','4-8 hz','8-16 Khz','16-32 Khz','Fullband'][indexof(['a','b','c','d','e','f'],datum.label)]"}}
 },
 "title":{"text":["Figure 20b.  Root-mean-square (RMS) sound pressure level (SPL) in 1-octave bands and full","bandwidth averaged hourly over the construction deployment period at site B1 (Fan Lau)."],"orient":"bottom","anchor":"middle","dx":-12,"offset":23}
}
]
}
